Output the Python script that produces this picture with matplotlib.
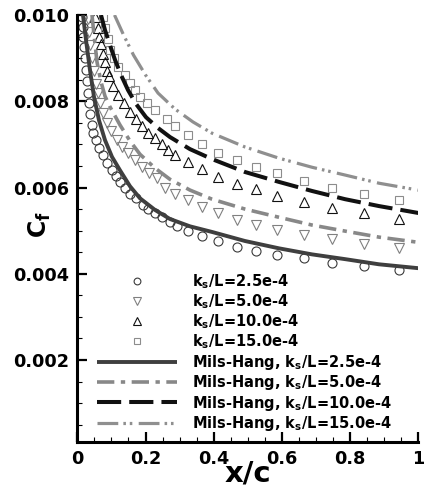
import matplotlib
matplotlib.use("Agg")
import matplotlib.pyplot as plt
from matplotlib.ticker import MultipleLocator, FormatStrFormatter

plt.rcParams['font.family'] = 'DejaVu Sans'
plt.rcParams['font.weight'] = 'bold'
plt.rcParams['mathtext.fontset'] = 'dejavusans'
plt.rcParams['mathtext.default'] = 'bf'

# ---- data ----
# symbols (computed data)
circ_x = [0.013, 0.016, 0.018, 0.020, 0.023, 0.025, 0.028, 0.031, 0.034, 0.038, 0.042, 0.047,
          0.055, 0.065, 0.076, 0.088, 0.101, 0.113, 0.125, 0.140, 0.155, 0.172, 0.192, 0.208,
          0.228, 0.247, 0.272, 0.293, 0.326, 0.367, 0.412, 0.467, 0.524, 0.586, 0.665, 0.746,
          0.841, 0.944]
circ_cf = [0.00996, 0.00973, 0.0095, 0.00925, 0.0090, 0.00873, 0.00847, 0.0082, 0.00795, 0.0077,
           0.00745, 0.00726, 0.0071, 0.00691, 0.00675, 0.00657, 0.0064, 0.00626, 0.00613, 0.00598,
           0.00586, 0.00575, 0.00559, 0.00551, 0.0054, 0.00532, 0.0052, 0.0051, 0.00499, 0.00488,
           0.00476, 0.00462, 0.00453, 0.00443, 0.00436, 0.00426, 0.00417, 0.00408]

tdn_x = [0.030, 0.034, 0.038, 0.043, 0.048, 0.054, 0.060, 0.067, 0.076, 0.086, 0.100, 0.115,
         0.132, 0.150, 0.169, 0.189, 0.210, 0.233, 0.258, 0.287, 0.326, 0.367, 0.412, 0.467,
         0.524, 0.586, 0.665, 0.746, 0.841, 0.944]
tdn_cf = [0.0099, 0.0096, 0.0093, 0.0090, 0.0087, 0.0084, 0.0082, 0.00795, 0.00772, 0.0075,
          0.0073, 0.0071, 0.00693, 0.00679, 0.00663, 0.00648, 0.00634, 0.00621, 0.0060, 0.00585,
          0.00571, 0.00555, 0.0054, 0.00525, 0.00514, 0.00502, 0.00489, 0.0048, 0.00468, 0.0046]

tup_x = [0.052, 0.060, 0.065, 0.070, 0.076, 0.082, 0.088, 0.094, 0.106, 0.120, 0.137, 0.155,
         0.172, 0.190, 0.208, 0.228, 0.247, 0.267, 0.287, 0.326, 0.367, 0.412, 0.467, 0.524,
         0.586, 0.665, 0.746, 0.841, 0.944]
tup_cf = [0.00996, 0.0097, 0.0095, 0.00932, 0.0091, 0.0089, 0.0087, 0.00858, 0.00835, 0.00815,
          0.00795, 0.00776, 0.00758, 0.00742, 0.00727, 0.00714, 0.0070, 0.00688, 0.00675, 0.0066,
          0.00642, 0.00625, 0.00609, 0.00596, 0.00581, 0.00567, 0.00553, 0.0054, 0.00528]

sq_x = [0.076, 0.082, 0.089, 0.097, 0.107, 0.120, 0.140, 0.155, 0.170, 0.184, 0.205, 0.228,
        0.262, 0.287, 0.326, 0.367, 0.412, 0.467, 0.524, 0.586, 0.665, 0.746, 0.841, 0.944]
sq_cf = [0.00995, 0.0097, 0.00945, 0.0092, 0.0090, 0.0088, 0.00862, 0.00842, 0.00825, 0.0081,
         0.00795, 0.0078, 0.0076, 0.00742, 0.00722, 0.00701, 0.0068, 0.00664, 0.00648, 0.00633,
         0.00615, 0.00599, 0.00585, 0.00571]

# Mils-Hang correlation curves
mh25_x = [0.0167, 0.0255, 0.0372, 0.0490, 0.0636, 0.0812, 0.1018, 0.1252, 0.1545, 0.1839,
          0.2279, 0.2718, 0.3305, 0.3950, 0.4918, 0.5915, 0.6883, 0.7850, 0.8847, 1.0]
mh25_cf = [0.0100, 0.00942, 0.00872, 0.00810, 0.00756, 0.00710, 0.00671, 0.00640, 0.00603,
           0.00575, 0.00548, 0.00527, 0.00510, 0.00497, 0.00476, 0.00459, 0.00445, 0.00434,
           0.00422, 0.00413]

mh50_x = [0.0431, 0.0490, 0.0578, 0.0695, 0.0812, 0.0959, 0.1252, 0.1545, 0.1839, 0.2279,
          0.2718, 0.3305, 0.3950, 0.4918, 0.5915, 0.6883, 0.7850, 0.8847, 1.0]
mh50_cf = [0.0100, 0.00954, 0.00891, 0.00845, 0.00812, 0.00787, 0.00745, 0.00708, 0.00677,
           0.00645, 0.00619, 0.00594, 0.00573, 0.00550, 0.00531, 0.00513, 0.00499, 0.00485,
           0.00473]

mh100_x = [0.0695, 0.0812, 0.0959, 0.1106, 0.1282, 0.1487, 0.1721, 0.2015, 0.2367, 0.2718,
           0.3305, 0.3950, 0.4918, 0.5915, 0.6883, 0.7850, 0.8847, 1.0]
mh100_cf = [0.0100, 0.00965, 0.00930, 0.00896, 0.00861, 0.00826, 0.00794, 0.00763, 0.00738,
            0.00717, 0.00689, 0.00666, 0.00636, 0.00613, 0.00592, 0.00573, 0.00557, 0.00541]

mh150_x = [0.1091, 0.1355, 0.1648, 0.2000, 0.2367, 0.2865, 0.3393, 0.3950, 0.4918, 0.5915,
           0.6883, 0.7850, 0.8847, 1.0]
mh150_cf = [0.0100, 0.00954, 0.00907, 0.00861, 0.00819, 0.00782, 0.00752, 0.00726, 0.00694,
            0.00668, 0.00647, 0.00629, 0.00610, 0.00594]

sym_labels = [r"k$_s$/L=2.5e-4", r"k$_s$/L=5.0e-4", r"k$_s$/L=10.0e-4", r"k$_s$/L=15.0e-4"]
line_labels = [r"Mils-Hang, k$_s$/L=2.5e-4", r"Mils-Hang, k$_s$/L=5.0e-4",
               r"Mils-Hang, k$_s$/L=10.0e-4", r"Mils-Hang, k$_s$/L=15.0e-4"]
x_ticks = [0, 0.2, 0.4, 0.6, 0.8, 1.0]
x_ticklabels = ['0', '0.2', '0.4', '0.6', '0.8', '1']

# ---- figure ----
fig = plt.figure(figsize=(4.25, 4.93), dpi=100)
ax = fig.add_axes([77.3 / 425, 51 / 493, 341 / 425, 427 / 493])

ms_kw = dict(linestyle='none', markerfacecolor='none', markeredgewidth=0.8)
ax.plot(circ_x, circ_cf, marker='o', markersize=6.5, markeredgecolor='#3a3a3a', label=sym_labels[0], **ms_kw)
ax.plot(tdn_x, tdn_cf, marker='v', markersize=7, markeredgecolor='#808080', label=sym_labels[1], **ms_kw)
ax.plot(tup_x, tup_cf, marker='^', markersize=7, markeredgecolor='#111111', label=sym_labels[2], **ms_kw)
ax.plot(sq_x, sq_cf, marker='s', markersize=5.5, markeredgecolor='#8c8c8c', label=sym_labels[3], **ms_kw)

ax.plot(mh25_x, mh25_cf, color='#3f3f3f', lw=2.8, solid_capstyle='butt', label=line_labels[0])
ax.plot(mh50_x, mh50_cf, color='#888888', lw=2.6, dashes=(4.8, 1.8, 1.2, 1.8), label=line_labels[1])
ax.plot(mh100_x, mh100_cf, color='#111111', lw=2.9, dashes=(6.0, 2.0), label=line_labels[2])
ax.plot(mh150_x, mh150_cf, color='#8f8f8f', lw=2.3, dashes=(6.5, 1.6, 0.8, 1.2, 0.8, 2.0), label=line_labels[3])

ax.set_xlim(0, 1)
ax.set_ylim(0.0001, 0.010)

ax.set_xticks(x_ticks)
ax.set_xticklabels(x_ticklabels)
ax.xaxis.set_minor_locator(MultipleLocator(0.05))
ax.yaxis.set_major_locator(MultipleLocator(0.002))
ax.yaxis.set_minor_locator(MultipleLocator(0.0005))
ax.yaxis.set_major_formatter(FormatStrFormatter('%.3f'))

for side in ['top', 'right']:
    ax.spines[side].set_visible(False)
for side in ['left', 'bottom']:
    ax.spines[side].set_linewidth(2.2)

ax.tick_params(which='major', direction='in', length=7, width=1.6, labelsize=12.7, pad=6)
ax.tick_params(which='minor', direction='in', length=3.5, width=0.8)
for lab in ax.get_xticklabels() + ax.get_yticklabels():
    lab.set_fontweight('bold')

ax.set_xlabel('x/c', fontsize=21, fontweight='bold')
ax.xaxis.set_label_coords(0.5, -0.042)
ax.set_ylabel(r'C$_f$', fontsize=17, fontweight='bold')
ax.yaxis.set_label_coords(-0.07, 0.51)

leg = ax.legend(loc='upper left', bbox_to_anchor=(97 / 425, 1 - 272 / 493), bbox_transform=fig.transFigure,
                frameon=False, prop={'size': 10.5, 'weight': 'bold'}, handlelength=5.5,
                handletextpad=1.0, labelspacing=0.1, borderpad=0, borderaxespad=0, markerscale=0.75)

fig.savefig('out.png', dpi=100)
